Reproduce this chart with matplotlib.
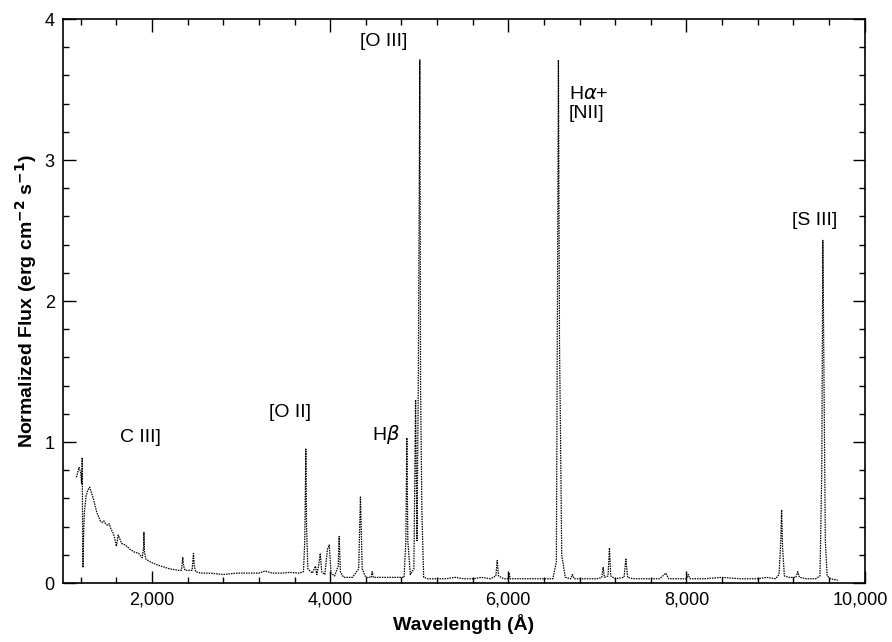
"""Spectrum of a planetary nebula, normalized flux vs wavelength.
Values read off the printed figure by eye."""
import matplotlib
matplotlib.use("Agg")
import matplotlib.pyplot as plt
import matplotlib.transforms as mtransforms
from matplotlib.ticker import FuncFormatter, MultipleLocator

plt.rcParams["font.family"] = ["Liberation Sans", "DejaVu Sans"]

# wavelength (Angstrom) and normalized flux
wave = [1150, 1180, 1200, 1210, 1216, 1220, 1225, 1230, 1240, 1260, 1280, 1300,
        1320, 1340, 1360, 1380, 1400, 1420, 1440, 1460, 1480, 1500, 1520, 1540,
        1560, 1580, 1600, 1620, 1640, 1660, 1700, 1750, 1800, 1850, 1890, 1905,
        1909, 1915, 1930, 1980, 2050, 2100, 2200, 2300, 2330, 2345, 2355, 2370,
        2420, 2450, 2465, 2475, 2490, 2550, 2650, 2800, 2950, 3100, 3200, 3270,
        3350, 3450, 3550, 3650, 3700, 3715, 3727, 3735, 3750, 3800, 3835, 3850,
        3870, 3889, 3905, 3940, 3970, 3990, 4010, 4050, 4090, 4101, 4115, 4150,
        4250, 4320, 4340, 4360, 4400, 4460, 4471, 4485, 4550, 4650, 4750, 4830,
        4850, 4861, 4872, 4900, 4940, 4959, 4975, 4990, 5000, 5007, 5015, 5030,
        5050, 5100, 5200, 5300, 5400, 5500, 5600, 5700, 5800, 5860, 5876, 5890,
        5950, 6000, 6010, 6020, 6100, 6200, 6300, 6400, 6500, 6540, 6550, 6563,
        6575, 6584, 6600, 6640, 6700, 6720, 6740, 6800, 6900, 7000, 7050, 7065,
        7080, 7120, 7136, 7150, 7200, 7300, 7320, 7340, 7400, 7500, 7600, 7700,
        7770, 7800, 7900, 8000, 8020, 8040, 8200, 8400, 8600, 8800, 8900, 9000,
        9040, 9060, 9069, 9080, 9100, 9150, 9230, 9250, 9270, 9350, 9450, 9500,
        9520, 9532, 9545, 9560, 9580, 9620, 9700]
flux = [0.75, 0.82, 0.78, 0.70, 0.89, 0.40, 0.11, 0.30, 0.50, 0.62, 0.66, 0.68,
        0.64, 0.60, 0.55, 0.50, 0.47, 0.44, 0.43, 0.44, 0.42, 0.41, 0.42, 0.38,
        0.36, 0.32, 0.26, 0.34, 0.31, 0.28, 0.27, 0.24, 0.22, 0.21, 0.18, 0.25,
        0.36, 0.22, 0.17, 0.15, 0.13, 0.12, 0.10, 0.09, 0.09, 0.18, 0.12, 0.09,
        0.09, 0.09, 0.21, 0.12, 0.08, 0.07, 0.07, 0.06, 0.07, 0.07, 0.07, 0.085,
        0.07, 0.07, 0.075, 0.07, 0.08, 0.30, 0.95, 0.40, 0.10, 0.07, 0.12, 0.06,
        0.12, 0.21, 0.08, 0.06, 0.24, 0.27, 0.07, 0.05, 0.12, 0.33, 0.08, 0.04,
        0.04, 0.10, 0.61, 0.10, 0.04, 0.04, 0.08, 0.04, 0.04, 0.04, 0.04, 0.04,
        0.30, 1.03, 0.30, 0.06, 0.10, 1.30, 0.30, 1.45, 2.80, 3.71, 1.40, 0.50,
        0.04, 0.03, 0.03, 0.03, 0.04, 0.03, 0.03, 0.04, 0.03, 0.05, 0.16, 0.05,
        0.03, 0.03, 0.07, 0.03, 0.03, 0.03, 0.03, 0.03, 0.03, 0.15, 1.75, 3.71,
        1.70, 1.20, 0.20, 0.04, 0.03, 0.06, 0.03, 0.03, 0.03, 0.03, 0.04, 0.11,
        0.04, 0.05, 0.25, 0.05, 0.03, 0.04, 0.17, 0.04, 0.03, 0.03, 0.03, 0.03,
        0.07, 0.03, 0.03, 0.03, 0.06, 0.03, 0.03, 0.04, 0.03, 0.03, 0.04, 0.03,
        0.06, 0.30, 0.52, 0.25, 0.05, 0.04, 0.04, 0.08, 0.04, 0.03, 0.03, 0.05,
        0.80, 2.43, 1.40, 0.30, 0.05, 0.03, 0.02]

# emission line labels: (text, wavelength, flux, horizontal alignment)
labels = [("C III]", 1866, 1.03, "center"),
          ("[O II]", 3554, 1.21, "center"),
          (r"H$\beta$", 4622, 1.05, "center"),
          ("[O III]", 4600, 3.84, "center"),
          ("H$\\alpha$+\n[NII]", 6680, 3.40, "left"),
          ("[S III]", 9438, 2.57, "center")]

fig = plt.figure(figsize=(8.92, 6.42), dpi=100)
ax = fig.add_axes([0.0706, 0.0919, 0.8986, 0.8785])

ax.plot(wave, flux, color="black", lw=0.9, ls=(0, (1.2, 0.8)))

for txt, x, y, ha in labels:
    ax.text(x, y, txt, ha=ha, va="center", fontsize=14, linespacing=1.15)

ax.set_xlim(1000, 10000)
ax.set_ylim(0, 4)
ax.xaxis.set_major_locator(MultipleLocator(2000))
ax.xaxis.set_minor_locator(MultipleLocator(400))
ax.yaxis.set_major_locator(MultipleLocator(1))
ax.yaxis.set_minor_locator(MultipleLocator(0.2))
ax.xaxis.set_major_formatter(FuncFormatter(lambda v, _: f"{v:,.0f}"))
ax.tick_params(which="both", direction="in", top=True, right=True,
               labelsize=13, width=1.0)
ax.tick_params(which="major", length=9, pad=6)
ax.tick_params(which="minor", length=4.5)
for s in ax.spines.values():
    s.set_linewidth(1.2)

ax.set_xlabel("Wavelength (Å)", fontsize=14, fontweight="bold", labelpad=4)
ax.set_ylabel(r"Normalized Flux (erg cm$^{\mathbf{-2}}$ s$^{\mathbf{-1}}$)",
              fontsize=14, fontweight="bold", labelpad=4)

# nudge the "10,000" label left so it stays inside the figure
fig.canvas.draw()
for tick in ax.xaxis.get_major_ticks():
    if abs(tick.get_loc() - 10000) < 1:
        lab = tick.label1
        lab.set_transform(lab.get_transform() +
                          mtransforms.ScaledTranslation(-4 / 100, 0, fig.dpi_scale_trans))

fig.savefig("out.png", dpi=100)
